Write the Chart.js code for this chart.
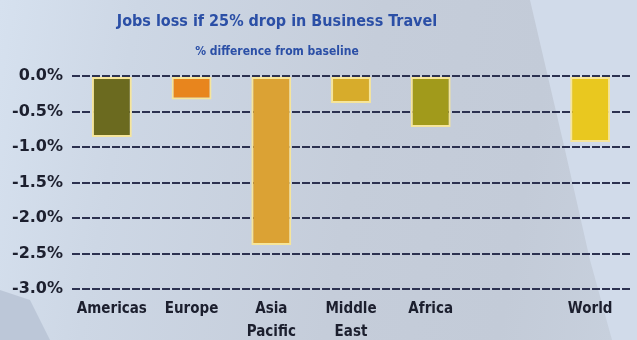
<!DOCTYPE html>
<html>
<head>
  <style type="text/css">
    html, body {
      margin: 0;
      padding: 0;
    }
    body {
      width: 637px;
      height: 340px;
      overflow: hidden;
      background: linear-gradient(100deg, #d6e1ef 0%, #cdd7e5 20%, #c5cdda 55%, #c3cbd8 80%, #c8d1de 100%);
      position: relative;
    }
    .shape {
      position: absolute;
      left: 0; top: 0;
      width: 637px; height: 340px;
    }
    #wedge {
      background: #d1dbea;
      clip-path: polygon(530px 0, 637px 0, 637px 340px, 612px 340px, 590px 260px, 565px 150px);
    }
    #corner {
      background: #bcc7d8;
      clip-path: polygon(0 290px, 30px 300px, 50px 340px, 0 340px);
    }
    #container {
      position: absolute;
      left: 0; top: 0;
      width: 637px;
      height: 340px;
    }
  </style>
</head>
<body>
  <div id="wedge" class="shape"></div>
  <div id="corner" class="shape"></div>
  <div id="container"><canvas id="chart1" width="637" height="340"></canvas></div>
  <script src="https://cdn.jsdelivr.net/npm/chart.js@4/dist/chart.umd.min.js"></script>
  <script>
    const regions = [ "Americas", "Europe", ["Asia", "Pacific"], ["Middle", "East"], "Africa", "", "World" ];
    const jobsLoss = [ -0.86, -0.33, -2.38, -0.38, -0.72, null, -0.93 ];
    const barColors = [ "#6b6a1f", "#e8851d", "#dba234", "#d7ac2b", "#a19a1b", "#000000", "#e9c81f" ];
    const yTicks = [ 0, -0.5, -1, -1.5, -2, -2.5, -3 ];

    const chartTitle = "Jobs loss if 25% drop in Business Travel";
    const chartSubtitle = "% difference from baseline";

    const condensed = "'DejaVu Sans Condensed', 'DejaVu Sans', sans-serif";
    const wide = "'DejaVu Sans', sans-serif";

    // heading sits left of the canvas centre, so draw it ourselves
    const headingPlugin = {
      id: 'heading',
      afterDraw(chart) {
        const ctx = chart.ctx;
        ctx.save();
        ctx.fillStyle = "#2b4fa6";
        ctx.textAlign = "center";
        ctx.textBaseline = "middle";
        ctx.font = "bold 16px " + condensed;
        ctx.fillText(chartTitle, 277, 22);
        ctx.font = "bold 12px " + condensed;
        ctx.fillText(chartSubtitle, 277, 52);
        ctx.restore();
      }
    };

    new Chart(document.getElementById("chart1"), {
      type: 'bar',
      data: {
        labels: regions,
        datasets: [{
          data: jobsLoss,
          backgroundColor: barColors,
          borderColor: "#f6e59a",
          borderWidth: 2,
          borderSkipped: false,
          barPercentage: 0.5,
          categoryPercentage: 1
        }]
      },
      plugins: [headingPlugin],
      options: {
        responsive: false,
        animation: false,
        devicePixelRatio: 1,
        layout: { padding: { left: 0, right: 7, top: 76, bottom: 0 } },
        plugins: {
          legend: { display: false },
          tooltip: { enabled: false },
          title: { display: false }
        },
        scales: {
          x: {
            grid: { display: false },
            border: { display: false },
            afterFit: (axis) => { axis.height = 51; },
            ticks: {
              color: "#1c1f2e",
              font: { family: condensed, size: 15, weight: 'bold', lineHeight: 1.55 },
              maxRotation: 0,
              autoSkip: false,
              padding: 0
            }
          },
          y: {
            min: -3,
            max: 0,
            afterBuildTicks: (axis) => { axis.ticks = yTicks.map(v => ({ value: v })); },
            afterFit: (axis) => { axis.width = 72; },
            grid: { color: "#2c3150", lineWidth: 2, drawTicks: false },
            border: { display: false, dash: [8, 2] },
            ticks: {
              color: "#1c1f2e",
              font: { family: wide, size: 16, weight: 'bold' },
              padding: 9,
              callback: (v) => v.toFixed(1) + "%"
            }
          }
        }
      }
    });
  </script>
</body>
</html>
